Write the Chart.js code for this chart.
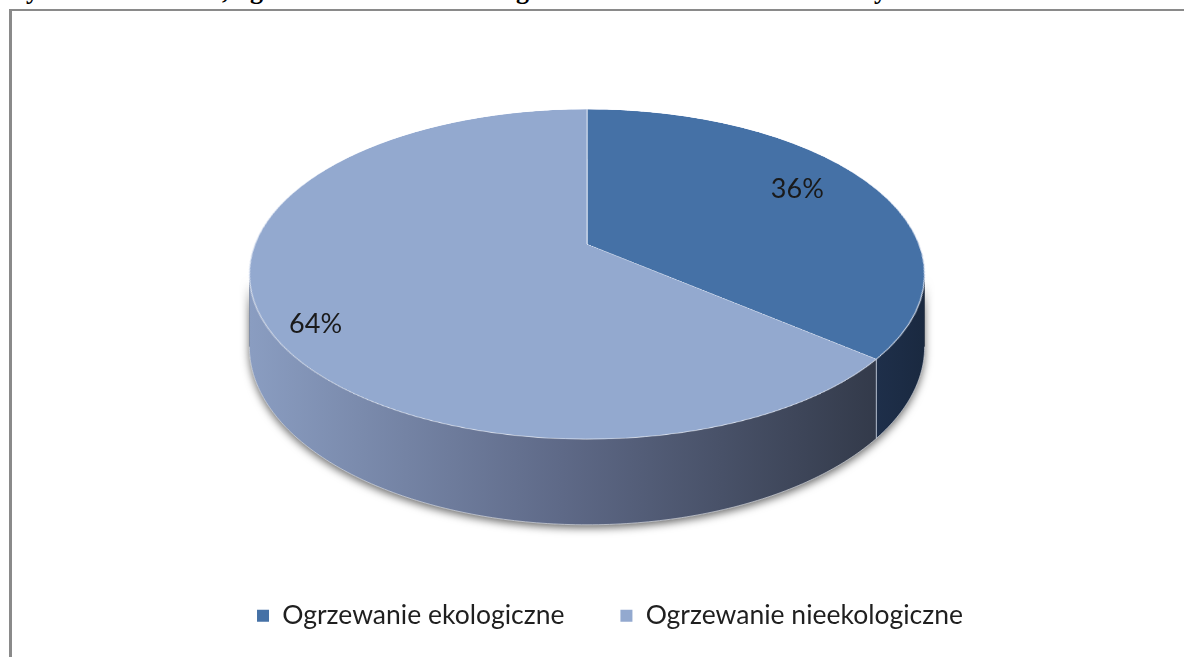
<!DOCTYPE html>
<html>
<head>
<meta charset="utf-8">
<script src="https://cdn.jsdelivr.net/npm/chart.js@4.4.0/dist/chart.umd.min.js"></script>
<style>
html,body{margin:0;padding:0;background:#fff;width:1184px;height:657px;overflow:hidden;}
#frameTop{position:absolute;left:9px;top:9px;width:1175px;height:2px;background:#8a8a8a;}
#frameLeft{position:absolute;left:9px;top:9px;width:3px;height:648px;background:#8a8a8a;}
#cut{position:absolute;left:0;top:0;width:1184px;height:7px;overflow:hidden;}
#cut span{position:absolute;top:-22px;font:bold 26px "Liberation Serif",serif;line-height:26px;color:#000;}
#c{position:absolute;left:0;top:0;}
</style>
</head>
<body>
<div id="cut"><span style="left:26px">y</span><span style="left:222px">,</span><span style="left:250px">g</span><span style="left:516px">g</span><span style="left:874px">y</span></div>
<div id="frameTop"></div>
<div id="frameLeft"></div>
<canvas id="c" width="1184" height="657"></canvas>
<script>
// ---- data ----
const categories = ['Ogrzewanie ekologiczne', 'Ogrzewanie nieekologiczne'];
const shares = [36, 64];
const percentLabels = ['36%', '64%'];

// ---- styles ----
const sliceColors = ['#4571a6', '#93a9cf'];
const wallStops = [
  ['#1e2f4a', '#1a2940'],
  ['#8a9dc1', '#5e6987', '#333a4a']
];

const pie3d = {
  id: 'pie3d',
  beforeDatasetsDraw(chart, args, o) {
    const arcs = chart.getDatasetMeta(0).data;
    if (!arcs.length) return;
    const a0 = arcs[0];
    const R = a0.outerRadius, C = o.persp, ky = o.tilt;
    const X0 = a0.x + o.shiftX * R, Yc = a0.y + o.shiftY * R;
    const proj = (u, t, drop) => {
      const w = 1 + C * t;
      return [X0 + R * u / w, Yc + R * (-ky * t + (drop || 0)) / w];
    };
    chart.$proj = proj;
    const ctx = chart.ctx;
    const vis0 = Math.asin(C), vis1 = Math.PI - Math.asin(C);

    const wallPath = (a, b) => {
      ctx.beginPath();
      const n = Math.max(8, Math.ceil((b - a) / 0.01));
      for (let i = 0; i <= n; i++) {
        const f = a + (b - a) * i / n;
        const p = proj(Math.cos(f), -Math.sin(f));
        i ? ctx.lineTo(p[0], p[1]) : ctx.moveTo(p[0], p[1]);
      }
      for (let i = n; i >= 0; i--) {
        const f = a + (b - a) * i / n;
        const p = proj(Math.cos(f), -Math.sin(f), o.depth);
        ctx.lineTo(p[0], p[1]);
      }
      ctx.closePath();
    };

    // shadow pass
    ctx.save();
    ctx.shadowColor = 'rgba(0,0,0,0.6)';
    ctx.shadowBlur = 9;
    ctx.shadowOffsetX = 0;
    ctx.shadowOffsetY = 3;
    ctx.fillStyle = '#555';
    wallPath(vis0, vis1);
    ctx.fill();
    ctx.restore();

    // walls per slice
    const bounds = [];
    arcs.forEach((arc, i) => {
      for (let k = -1; k <= 1; k++) {
        const s = arc.startAngle + 2 * Math.PI * k, e = arc.endAngle + 2 * Math.PI * k;
        const a = Math.max(s, vis0), b = Math.min(e, vis1);
        if (a < b) {
          const stops = wallStops[i % wallStops.length];
          let xs = [];
          for (let j = 0; j <= 40; j++) {
            const f = a + (b - a) * j / 40;
            xs.push(proj(Math.cos(f), -Math.sin(f))[0]);
          }
          const xmin = Math.min(...xs), xmax = Math.max(...xs);
          const g = ctx.createLinearGradient(xmin, 0, xmax, 0);
          stops.forEach((c, j) => g.addColorStop(stops.length > 1 ? j / (stops.length - 1) : 0, c));
          ctx.fillStyle = g;
          wallPath(a, b);
          ctx.fill();
          if (s > vis0 && s < vis1) bounds.push(s);
        }
      }
    });
    // light edge on slice boundaries of the wall
    ctx.save();
    ctx.strokeStyle = 'rgba(205,214,232,0.85)';
    ctx.lineWidth = 1;
    bounds.forEach(f => {
      const p = proj(Math.cos(f), -Math.sin(f));
      const q = proj(Math.cos(f), -Math.sin(f), o.depth);
      ctx.beginPath(); ctx.moveTo(p[0], p[1]); ctx.lineTo(q[0], q[1]); ctx.stroke();
    });
    // light bottom rim
    ctx.strokeStyle = 'rgba(235,238,245,0.6)';
    ctx.beginPath();
    for (let i = 0; i <= 200; i++) {
      const f = vis0 + (vis1 - vis0) * i / 200;
      const p = proj(Math.cos(f), -Math.sin(f), o.depth);
      i ? ctx.lineTo(p[0], p[1]) : ctx.moveTo(p[0], p[1]);
    }
    ctx.stroke();
    ctx.restore();

    // top face: library-drawn arcs, seen in perspective
    const S = Math.ceil(2 * R + 8);
    const off = document.createElement('canvas');
    off.width = S; off.height = S;
    const oc = off.getContext('2d');
    oc.translate(S / 2 - a0.x, S / 2 - a0.y);
    arcs.forEach(a => a.draw(oc));
    const yTop = proj(0, 1)[1], yBot = proj(0, -1)[1];
    for (let y = Math.floor(yTop) - 2; y <= Math.ceil(yBot) + 2; y++) {
      const yy = y + 0.5 - Yc;
      const t = -yy / (yy * C + R * ky);
      if (t > 1.03 || t < -1.03) continue;
      const s = 1 / (1 + C * t);
      const sy = S / 2 - t * R - 0.5;
      if (sy < 0 || sy > S - 1) continue;
      ctx.drawImage(off, 0, sy, S, 1, X0 - (S / 2) * s, y, S * s, 1);
    }
    return false;
  },
  afterDraw(chart, args, o) {
    const arcs = chart.getDatasetMeta(0).data;
    const proj = chart.$proj;
    if (!proj) return;
    const ctx = chart.ctx;
    ctx.save();
    ctx.font = o.labelFont;
    ctx.fillStyle = o.labelColor;
    ctx.textAlign = 'center';
    ctx.textBaseline = 'middle';
    arcs.forEach((arc, i) => {
      const f = (arc.startAngle + arc.endAngle) / 2 + o.labelShift[i] * Math.PI / 180;
      const r = o.labelRadius[i];
      const p = proj(r * Math.cos(f), -r * Math.sin(f));
      ctx.fillText(percentLabels[i], p[0], p[1]);
    });
    ctx.restore();
  }
};

new Chart(document.getElementById('c'), {
  type: 'pie',
  data: {
    labels: categories,
    datasets: [{
      data: shares,
      backgroundColor: sliceColors,
      borderColor: 'rgba(225,232,244,0.95)',
      borderWidth: 1
    }]
  },
  options: {
    responsive: false,
    animation: false,
    events: [],
    radius: 332,
    layout: { padding: { left: 36, right: 0, top: 20, bottom: 18 } },
    plugins: {
      tooltip: { enabled: false },
      legend: {
        position: 'bottom',
        labels: {
          boxWidth: 12,
          boxHeight: 12,
          padding: 56,
          color: '#1f1f1f',
          font: { family: 'Lato', size: 26.5 },
          generateLabels(chart) {
            return Chart.overrides.pie.plugins.legend.labels.generateLabels(chart)
              .map(l => Object.assign(l, { lineWidth: 0, strokeStyle: 'rgba(0,0,0,0)' }));
          }
        }
      },
      pie3d: {
        persp: 0.1818,
        tilt: 0.4804,
        depth: 0.211,
        shiftX: -0.0693,
        shiftY: -0.1175,
        labelRadius: [0.77, 0.88],
        labelShift: [-3.4, -6.5],
        labelFont: '27px Lato',
        labelColor: '#1a1a1a'
      }
    }
  },
  plugins: [pie3d]
});
</script>
</body>
</html>
